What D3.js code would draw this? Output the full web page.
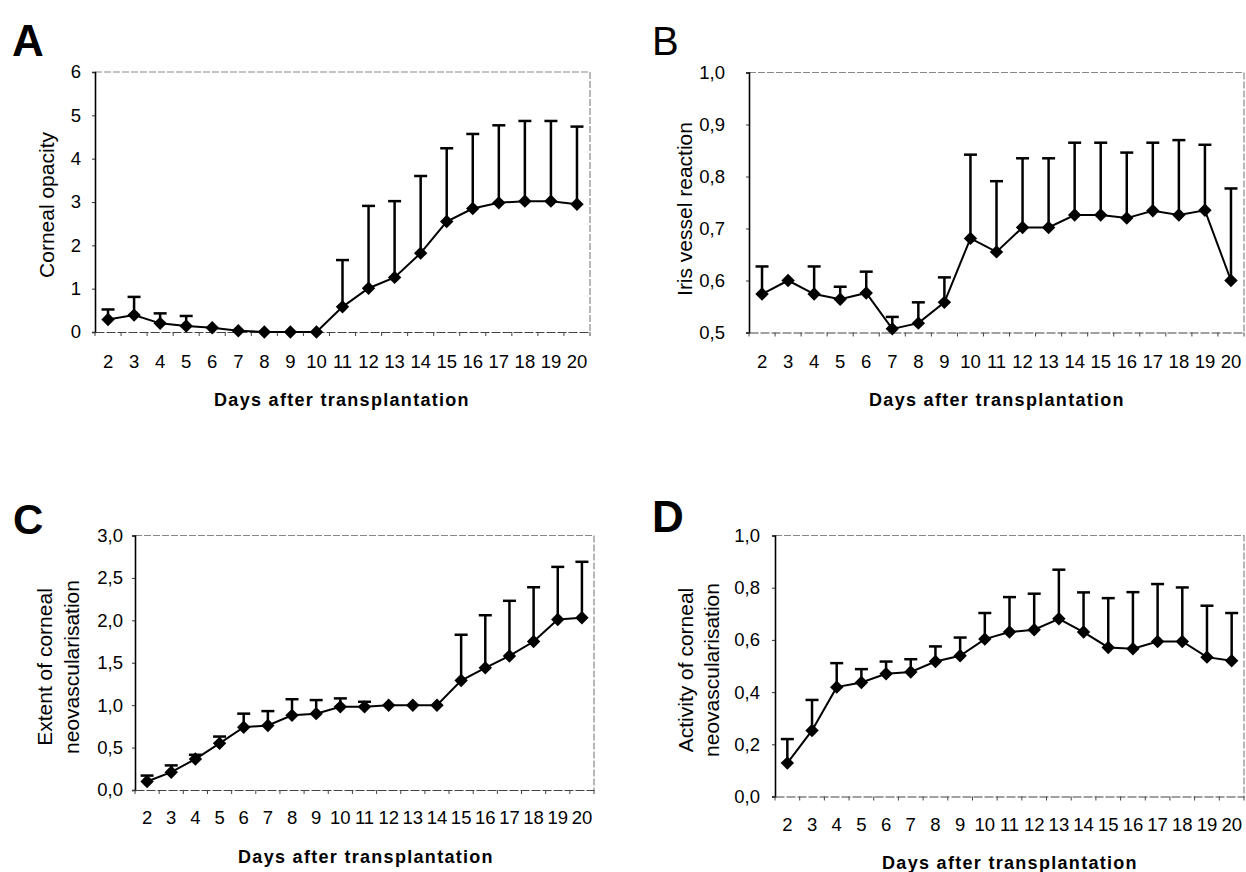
<!DOCTYPE html>
<html>
<head>
<meta charset="utf-8">
<script src="https://cdn.jsdelivr.net/npm/d3@7"></script>
<style>
  html, body { margin: 0; padding: 0; background: #fff; }
  svg { display: block; }
  text { font-family: "Liberation Sans", Arial, sans-serif; fill: #000; }
</style>
</head>
<body>
<svg id="chart" width="1246" height="872"></svg>
<script>
// ---------- data ----------
const days = ["2","3","4","5","6","7","8","9","10","11","12","13","14","15","16","17","18","19","20"];

const opacityMean = [0.29,0.39,0.20,0.14,0.10,0.03,0,0,0,0.58,1.01,1.26,1.82,2.55,2.85,2.98,3.02,3.02,2.95];
const opacitySD   = [0.23,0.42,0.23,0.23,0,0,0,0,0,1.08,1.90,1.76,1.78,1.69,1.72,1.79,1.85,1.85,1.79];
const opacityTicks = [0,1,2,3,4,5,6];

const irisMean = [0.574,0.600,0.574,0.564,0.576,0.507,0.518,0.558,0.681,0.655,0.702,0.702,0.726,0.726,0.720,0.734,0.726,0.735,0.600];
const irisSD   = [0.053,0,0.053,0.024,0.041,0.023,0.040,0.048,0.161,0.136,0.133,0.133,0.139,0.139,0.126,0.131,0.144,0.126,0.177];
const irisTicks = [0.5,0.6,0.7,0.8,0.9,1.0];

const extentMean = [0.10,0.21,0.365,0.55,0.74,0.76,0.88,0.90,0.98,0.98,1.0,1.0,1.0,1.29,1.44,1.58,1.75,2.01,2.03];
const extentSD   = [0.07,0.08,0.05,0.08,0.16,0.17,0.19,0.16,0.10,0.06,0,0,0,0.54,0.62,0.65,0.64,0.62,0.66];
const extentTicks = [0,0.5,1.0,1.5,2.0,2.5,3.0];

const activityMean = [0.128,0.253,0.419,0.437,0.470,0.477,0.517,0.539,0.603,0.630,0.639,0.681,0.630,0.571,0.566,0.594,0.594,0.534,0.520];
const activitySD   = [0.092,0.117,0.092,0.051,0.047,0.049,0.058,0.070,0.100,0.134,0.138,0.188,0.152,0.189,0.217,0.220,0.207,0.197,0.183];
const activityTicks = [0,0.2,0.4,0.6,0.8,1.0];

const xTitle = "Days after transplantation";

// ---------- layout ----------
const panels = [
  { letter:"A", bold:true, letterSize:44, lx:12, ly:56,
    left:95, right:590, top:72, bottom:332, domain:[0,6], ticks:opacityTicks, fmt:d=>String(d), labelGap:14,
    mean:opacityMean, sd:opacitySD, ytitle:["Corneal opacity"], ytx:[47], yty:205,
    xlabY:368, xtx:342, xty:406 },
  { letter:"B", bold:false, letterSize:40, lx:652, ly:55,
    left:749, right:1244, top:72.5, bottom:332.5, domain:[0.5,1.0], ticks:irisTicks, fmt:d=>d.toFixed(1).replace(".",","), labelGap:24,
    mean:irisMean, sd:irisSD, ytitle:["Iris vessel reaction"], ytx:[685], yty:209,
    xlabY:368, xtx:997, xty:406 },
  { letter:"C", bold:true, letterSize:42, lx:13, ly:534,
    left:135, right:594, top:535.5, bottom:790, domain:[0,3], ticks:extentTicks, fmt:d=>d.toFixed(1).replace(".",","), labelGap:12,
    mean:extentMean, sd:extentSD, ytitle:["Extent of corneal","neovascularisation"], ytx:[45,72], yty:667,
    xlabY:824, xtx:366, xty:863 },
  { letter:"D", bold:true, letterSize:44, lx:652, ly:532,
    left:775, right:1244, top:535.5, bottom:796.5, domain:[0,1], ticks:activityTicks, fmt:d=>d.toFixed(1).replace(".",","), labelGap:15,
    mean:activityMean, sd:activitySD, ytitle:["Activity of corneal","neovascularisation"], ytx:[686,712], yty:670,
    xlabY:831, xtx:1010, xty:869 }
];

const svg = d3.select("#chart");

panels.forEach(p => {
  const g = svg.append("g");
  const x = d3.scaleBand().domain(days).range([p.left, p.right]).paddingInner(0).paddingOuter(0);
  const y = d3.scaleLinear().domain(p.domain).range([p.bottom, p.top]);
  const cx = d => x(d) + x.bandwidth() / 2;

  // panel letter
  g.append("text")
    .attr("x", p.lx).attr("y", p.ly)
    .attr("font-size", p.letterSize)
    .attr("font-weight", p.bold ? "bold" : "normal")
    .text(p.letter);

  // plot frame (top & right)
  g.append("path")
    .attr("d", `M${p.left},${p.top}H${p.right}V${p.bottom}`)
    .attr("fill", "none").attr("stroke", "#888").attr("stroke-width", 1.2)
    .attr("stroke-dasharray", "7,2");

  // y axis
  const yAxis = d3.axisLeft(y).tickValues(p.ticks).tickFormat(p.fmt).tickSize(3).tickPadding(p.labelGap - 3);
  const ya = g.append("g").attr("transform", `translate(${p.left},0)`).call(yAxis);
  ya.select(".domain").attr("stroke", "#000").attr("stroke-width", 1.6);
  ya.selectAll(".tick line").attr("stroke", "#333");
  ya.selectAll(".tick text").attr("font-size", 18.5).attr("font-family", "Liberation Sans, Arial, sans-serif").attr("fill", "#000");

  // x axis: baseline + ticks between categories
  const xAxis = d3.axisBottom(x).tickSize(0).tickPadding(0);
  const xa = g.append("g").attr("transform", `translate(0,${p.bottom})`).call(xAxis);
  xa.select(".domain").attr("stroke", "#444").attr("stroke-width", 1.2).attr("stroke-dasharray", "9,2");
  xa.selectAll(".tick text")
    .attr("font-size", 18.5).attr("font-family", "Liberation Sans, Arial, sans-serif").attr("fill", "#000")
    .attr("y", p.xlabY - p.bottom).attr("dy", 0);
  const bounds = days.map(d => x(d)).concat([x.range()[1]]);
  g.append("g").selectAll("line").data(bounds).join("line")
    .attr("x1", d => d).attr("x2", d => d)
    .attr("y1", p.bottom).attr("y2", p.bottom + 4)
    .attr("stroke", "#444").attr("stroke-width", 1);

  const pts = days.map((d, i) => ({ d, m: p.mean[i], s: p.sd[i] }));

  // error bars (upper only)
  const eb = g.append("g").attr("stroke", "#000").attr("stroke-width", 2.5).attr("fill", "none");
  pts.filter(q => q.s > 0).forEach(q => {
    const xx = cx(q.d), y0 = y(q.m), y1 = y(q.m + q.s);
    eb.append("line").attr("x1", xx).attr("x2", xx).attr("y1", y0).attr("y2", y1);
    eb.append("line").attr("x1", xx - 6.5).attr("x2", xx + 6.5).attr("y1", y1).attr("y2", y1);
  });

  // line
  g.append("path")
    .datum(pts)
    .attr("fill", "none").attr("stroke", "#000").attr("stroke-width", 2)
    .attr("d", d3.line().x(q => cx(q.d)).y(q => y(q.m)));

  // diamond markers
  const sym = d3.symbol(d3.symbolSquare, 90);
  g.append("g").selectAll("path").data(pts).join("path")
    .attr("d", sym)
    .attr("transform", q => `translate(${cx(q.d)},${y(q.m)}) rotate(45)`)
    .attr("fill", "#000");

  // y title
  p.ytitle.forEach((t, i) => {
    g.append("text")
      .attr("transform", `translate(${p.ytx[i]},${p.yty}) rotate(-90)`)
      .attr("text-anchor", "middle").attr("dy", "0.35em")
      .attr("font-size", 21)
      .text(t);
  });

  // x title
  g.append("text")
    .attr("x", p.xtx).attr("y", p.xty)
    .attr("text-anchor", "middle")
    .attr("font-size", 18).attr("font-weight", "bold")
    .attr("letter-spacing", "1.3px")
    .text(xTitle);
});
</script>
</body>
</html>
